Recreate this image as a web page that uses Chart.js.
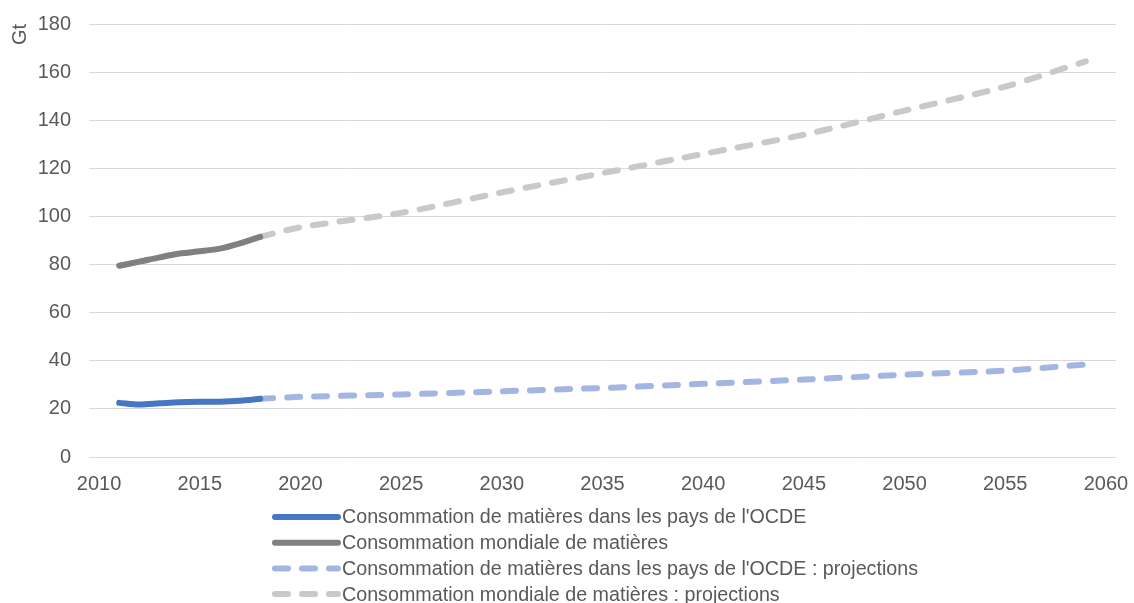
<!DOCTYPE html>
<html>
<head>
<meta charset="utf-8">
<script src="https://cdn.jsdelivr.net/npm/chart.js@4/dist/chart.umd.min.js"></script>
<style>
  body { margin: 0; background: #fff; }
  canvas { display: block; }
</style>
</head>
<body>
<canvas id="chart" width="1134" height="603"></canvas>
<script>
// years on the axis
const years = [];
for (let y = 2010; y <= 2060; y++) years.push(y);

// observed values (Gt)
const histYears = [2011, 2012, 2013, 2014, 2015, 2016, 2017, 2018];
const oecdHist = [22.5, 21.8, 22.3, 22.8, 23.0, 23.0, 23.4, 24.2];
const worldHist = [79.5, 81.2, 83.0, 84.6, 85.5, 86.6, 88.8, 91.5];

// projections (Gt)
const projYears = [2018, 2020, 2025, 2030, 2035, 2040, 2045, 2050, 2055, 2059];
const oecdProj = [24.2, 25.0, 26.0, 27.3, 28.7, 30.4, 32.2, 34.2, 35.9, 38.5];
const worldProj = [91.5, 95.5, 101.5, 110.0, 118.0, 126.0, 134.0, 144.0, 154.0, 164.5];

const seriesLabels = [
    "Consommation de matières dans les pays de l'OCDE",
    'Consommation mondiale de matières',
    "Consommation de matières dans les pays de l'OCDE : projections",
    'Consommation mondiale de matières : projections'
];

const textColor = '#595959';
Chart.defaults.font.family = "'Liberation Sans', Arial, sans-serif";
Chart.defaults.font.size = 20;
Chart.defaults.color = textColor;

function toPoints(xs, ys) {
    return xs.map((x, i) => ({ x: x, y: ys[i] }));
}

// legend drawn as a single column under the axis
const columnLegend = {
    id: 'columnLegend',
    afterDraw(chart) {
        const ctx = chart.ctx;
        const x0 = 272;
        const y0 = chart.chartArea.bottom + 60;
        ctx.save();
        ctx.font = "19.7px 'Liberation Sans', Arial, sans-serif";
        ctx.textBaseline = 'middle';
        chart.data.datasets.forEach((ds, i) => {
            const y = y0 + i * 25.7;
            ctx.strokeStyle = ds.borderColor;
            ctx.lineWidth = ds.borderWidth;
            ctx.lineCap = 'round';
            ctx.setLineDash(ds.borderDash || []);
            ctx.beginPath();
            ctx.moveTo(x0 + 3, y);
            ctx.lineTo(x0 + 66, y);
            ctx.stroke();
            ctx.setLineDash([]);
            ctx.fillStyle = textColor;
            ctx.fillText(ds.label, x0 + 70, y + 1);
        });
        ctx.restore();
    }
};

new Chart(document.getElementById('chart'), {
    type: 'line',
    data: {
        labels: years,
        datasets: [
            {
                label: seriesLabels[0],
                data: toPoints(histYears, oecdHist),
                borderColor: '#4677c2',
                borderWidth: 6,
                borderCapStyle: 'round',
                tension: 0.3,
                pointRadius: 0,
                order: 1
            },
            {
                label: seriesLabels[1],
                data: toPoints(histYears, worldHist),
                borderColor: '#808080',
                borderWidth: 6,
                borderCapStyle: 'round',
                tension: 0.3,
                pointRadius: 0,
                order: 1
            },
            {
                label: seriesLabels[2],
                data: toPoints(projYears, oecdProj),
                borderColor: '#a3b6e1',
                borderWidth: 6,
                borderCapStyle: 'round',
                borderDash: [13, 14],
                tension: 0.3,
                pointRadius: 0,
                spanGaps: true,
                order: 2
            },
            {
                label: seriesLabels[3],
                data: toPoints(projYears, worldProj),
                borderColor: '#c9c9c9',
                borderWidth: 6,
                borderCapStyle: 'round',
                borderDash: [13, 14],
                tension: 0.3,
                pointRadius: 0,
                spanGaps: true,
                order: 2
            }
        ]
    },
    options: {
        responsive: false,
        animation: false,
        devicePixelRatio: 1,
        layout: {
            padding: { top: 24, right: 18, bottom: 96, left: 0 }
        },
        scales: {
            x: {
                offset: true,
                grid: { display: false },
                border: { display: false },
                ticks: {
                    autoSkip: false,
                    maxRotation: 0,
                    padding: 7,
                    color: textColor,
                    callback: function (value, index) {
                        const yr = years[index];
                        return yr % 5 === 0 ? String(yr) : null;
                    }
                },
                afterFit(scale) {
                    scale.height = 50;
                    scale.paddingLeft = 0;
                    scale.paddingRight = 0;
                }
            },
            y: {
                min: 0,
                max: 180,
                ticks: { stepSize: 20, padding: 18, color: textColor },
                grid: { color: '#d9d9d9', drawTicks: false },
                border: { display: false },
                title: {
                    display: true,
                    text: 'Gt',
                    align: 'end',
                    color: textColor,
                    padding: { top: 8, bottom: 0 }
                },
                afterFit(scale) {
                    scale.width = 89;
                    scale.paddingTop = 0;
                    scale.paddingBottom = 0;
                }
            }
        },
        plugins: {
            legend: { display: false },
            tooltip: { enabled: false }
        }
    },
    plugins: [columnLegend]
});
</script>
</body>
</html>
